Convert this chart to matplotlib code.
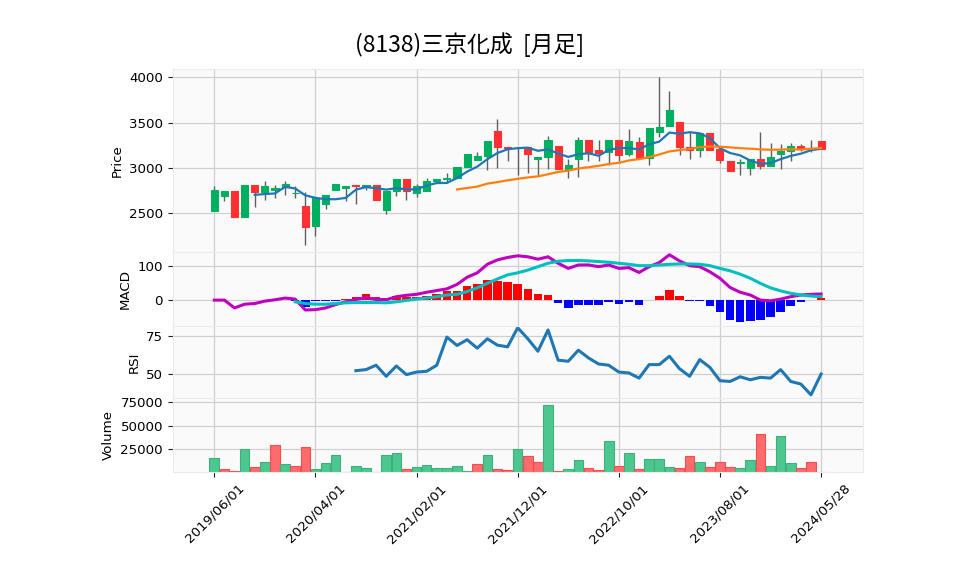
import numpy as np
import pandas as pd
import matplotlib
matplotlib.use("Agg")
import matplotlib.pyplot as plt

plt.rcParams['font.family'] = ['DejaVu Sans', 'Noto Sans CJK JP']

title = "(8138)三京化成  [月足]"
dates = list(pd.date_range("2019-06-01", periods=60, freq="MS")) + [pd.Timestamp("2024-05-28")]

# monthly OHLC
opens = [2530, 2696, 2748, 2463, 2815, 2730, 2752, 2789, 2720, 2581,
         2363, 2604, 2752, 2774, 2815, 2796, 2815, 2541, 2741, 2881,
         2722, 2748, 2852, 2878, 2889, 3007, 3085, 3130, 3404, 3230,
         3215, 3233, 3096, 3119, 3244, 2989, 3096, 3304, 3193, 3178,
         3304, 3152, 3289, 3107, 3396, 3463, 3511, 3233, 3196, 3381,
         3204, 3081, 3052, 2996, 3100, 3019, 3152, 3185, 3244, 3222,
         3293]
highs = [2804, 2748, 2748, 2815, 2815, 2856, 2811, 2852, 2804, 2730,
         2667, 2704, 2826, 2804, 2815, 2811, 2815, 2748, 2881, 2881,
         2826, 2889, 2881, 2944, 3011, 3156, 3174, 3293, 3544, 3235,
         3233, 3233, 3122, 3356, 3244, 3093, 3344, 3304, 3304, 3304,
         3304, 3433, 3341, 3444, 4005, 3850, 3511, 3396, 3381, 3381,
         3204, 3081, 3093, 3093, 3396, 3278, 3267, 3278, 3259, 3304,
         3293]
lows = [2530, 2630, 2463, 2463, 2567, 2641, 2667, 2707, 2667, 2155,
        2252, 2544, 2752, 2630, 2604, 2759, 2641, 2489, 2693, 2641,
        2685, 2748, 2845, 2833, 2889, 3007, 3085, 2981, 3000, 3074,
        2926, 2944, 2926, 2989, 2989, 2889, 2900, 3074, 3074, 3037,
        3074, 3130, 3111, 3033, 3344, 3463, 3141, 3093, 3122, 3196,
        3056, 2963, 2926, 2926, 2989, 3019, 2989, 3074, 3185, 3174,
        3204]
closes = [2759, 2748, 2463, 2815, 2730, 2804, 2781, 2826, 2726, 2352,
          2667, 2704, 2826, 2800, 2804, 2811, 2641, 2748, 2881, 2741,
          2804, 2859, 2881, 2889, 3011, 3156, 3133, 3293, 3230, 3215,
          3220, 3159, 3122, 3304, 2989, 3033, 3304, 3178, 3167, 3304,
          3148, 3293, 3111, 3444, 3456, 3644, 3230, 3196, 3381, 3196,
          3085, 2963, 3067, 3093, 3019, 3122, 3185, 3244, 3215, 3210,
          3204]
volumes = [15600, 3300, 1100, 25000, 5400, 11200, 29400, 9100, 6500, 27200,
           3600, 10100, 17800, 400, 6900, 4700, 400, 17800, 21000, 3600,
           5800, 8000, 4700, 4700, 6900, 1500, 9100, 17800, 3600, 2500,
           25000, 17400, 10900, 72100, 1100, 3600, 13400, 4400, 2200, 33000,
           6500, 21000, 3300, 14100, 14100, 5800, 4400, 17400, 11200, 5400,
           11200, 5800, 4700, 13400, 40600, 6900, 38400, 10100, 4700, 11200,
           400]

# indicator values
macd = [0, 0, -23, -12, -10, -3, 1, 6, 3, -29,
        -28, -23, -13, -5, 2, 7, 2, 1, 10, 14,
        17, 23, 28, 33, 46, 67, 80, 105, 118, 125,
        130, 127, 120, 127, 108, 93, 103, 103, 98, 103,
        93, 95, 81, 98, 110, 133, 115, 101, 98, 83,
        64, 37, 23, 15, 0, -2, 3, 10, 15, 17, 18]
signal = [np.nan] * 8 + [
    -5, -10, -12, -12, -10, -8, -7, -7, -7, -8, -5, -1,
    3, 6, 10, 15, 17, 25, 36, 49, 62, 74,
    80, 88, 98, 108, 114, 116, 116, 115, 113, 111,
    108, 105, 101, 101, 103, 105, 106, 106, 105, 101,
    93, 86, 76, 64, 49, 36, 27, 20, 15, 12, 10]
hist = [np.nan] * 8 + [
    -4, -19, -4, -4, -3, 3, 10, 18, 8, 7, 13, 10,
    10, 13, 17, 27, 27, 41, 47, 59, 57, 54,
    47, 32, 18, 15, -8, -23, -15, -15, -15, -5,
    -12, -5, -15, 0, 12, 29, 12, -2, -2, -17,
    -34, -57, -64, -62, -59, -49, -34, -17, -5, -1, 5]
rsi = [np.nan] * 14 + [
    52.2, 52.9, 55.8, 48.5, 55.3, 49.6,
    51.3, 51.8, 55.8, 74.3, 68.8, 72.6, 67.0, 73.2, 69.0, 67.9,
    80.5, 73.2, 65.0, 79.0, 59.1, 58.4, 65.7, 60.6, 56.6, 55.8,
    51.3, 50.7, 47.3, 56.2, 56.2, 61.7, 53.5, 48.5, 59.5, 54.4,
    45.6, 45.1, 48.2, 46.2, 47.8, 47.3, 52.9, 45.1, 43.4, 36.3,
    50.0]

df = pd.DataFrame({"Open": opens, "High": highs, "Low": lows, "Close": closes,
                   "Volume": volumes, "MACD": macd, "Signal": signal,
                   "Hist": hist, "RSI": rsi}, index=dates)
x = np.arange(len(df))
ma5 = df["Close"].rolling(5).mean()
ma25 = df["Close"].rolling(25).mean()

UP, DOWN = "#00b060", "#fe3032"
VUP, VDOWN = "#4dc790", "#fd6b6c"
FS = 9.6

fig = plt.figure(figsize=(9.58, 5.75), dpi=100)
left, width = 0.1803, 0.7206
ax1 = fig.add_axes([left, 0.5617, width, 0.3179])
ax2 = fig.add_axes([left, 0.4330, width, 0.1287], sharex=ax1)
ax3 = fig.add_axes([left, 0.3078, width, 0.1252], sharex=ax1)
ax4 = fig.add_axes([left, 0.1791, width, 0.1287], sharex=ax1)

for ax in (ax1, ax2, ax3, ax4):
    ax.set_facecolor("#fafafa")
    ax.grid(True, color="#d0d0d0", linewidth=0.9)
    ax.set_axisbelow(True)
    for s in ax.spines.values():
        s.set_color("#ececec")
    ax.tick_params(labelsize=FS, length=3.5, color="#222222")
    ax.tick_params(axis="x", labelbottom=False)

# candles
is_up = df["Close"] >= df["Open"]
ccol = [UP if u else DOWN for u in is_up]
ax1.vlines(x, df["Low"], df["High"], color="#606060", linewidth=1.0, zorder=2)
ax1.bar(x, (df["Close"] - df["Open"]).abs(), bottom=df[["Open", "Close"]].min(axis=1),
        width=0.7, color=ccol, edgecolor=ccol, linewidth=0.8, zorder=3)
ax1.plot(x, ma5, color="#1f77b4", linewidth=1.6, zorder=4)
ax1.plot(x, ma25, color="#ff7f0e", linewidth=1.6, zorder=4)
ax1.set_ylim(2073, 4088)
ax1.set_yticks([2500, 3000, 3500, 4000])
ax1.set_ylabel("Price", fontsize=FS)

# MACD
hcol = ["#ff0000" if v >= 0 else "#0000ff" for v in df["Hist"].fillna(0)]
ax2.bar(x, df["Hist"], width=0.85, color=hcol, zorder=2)
ax2.plot(x, df["MACD"], color="#bf00bf", linewidth=2.2, zorder=3)
ax2.plot(x, df["Signal"], color="#00bfbf", linewidth=2.2, zorder=4)
ax2.set_ylim(-76, 141)
ax2.set_yticks([0, 100])
ax2.set_ylabel("MACD", fontsize=FS)

# RSI
ax3.plot(x, df["RSI"], color="#1f77b4", linewidth=2.2)
ax3.set_ylim(34.2, 81.6)
ax3.set_yticks([50, 75])
ax3.set_ylabel("RSI", fontsize=FS)

# volume (coloured against previous close)
vup = df["Close"].diff().fillna(1) >= 0
vcol = [VUP if u else VDOWN for u in vup]
vedge = ["#3fb07c" if u else "#f24e50" for u in vup]
ax4.bar(x, df["Volume"], width=0.95, color=vcol, edgecolor=vedge, linewidth=0.8)
ax4.set_ylim(0, 79700)
ax4.set_yticks([25000, 50000, 75000])
ax4.set_ylabel("Volume", fontsize=FS)

ticks = x[::10]
ax4.set_xticks(ticks)
ax4.set_xticklabels([d.strftime("%Y/%m/%d") for d in df.index[::10]], rotation=45)
ax4.tick_params(axis="x", labelbottom=True)
ax1.set_xlim(-4.11, 64.15)

fig.suptitle(title, x=0.49, y=0.922, va="center", fontsize=16.5,
             family=["Noto Sans CJK JP", "DejaVu Sans"])

fig.savefig("out.png", dpi=100)
